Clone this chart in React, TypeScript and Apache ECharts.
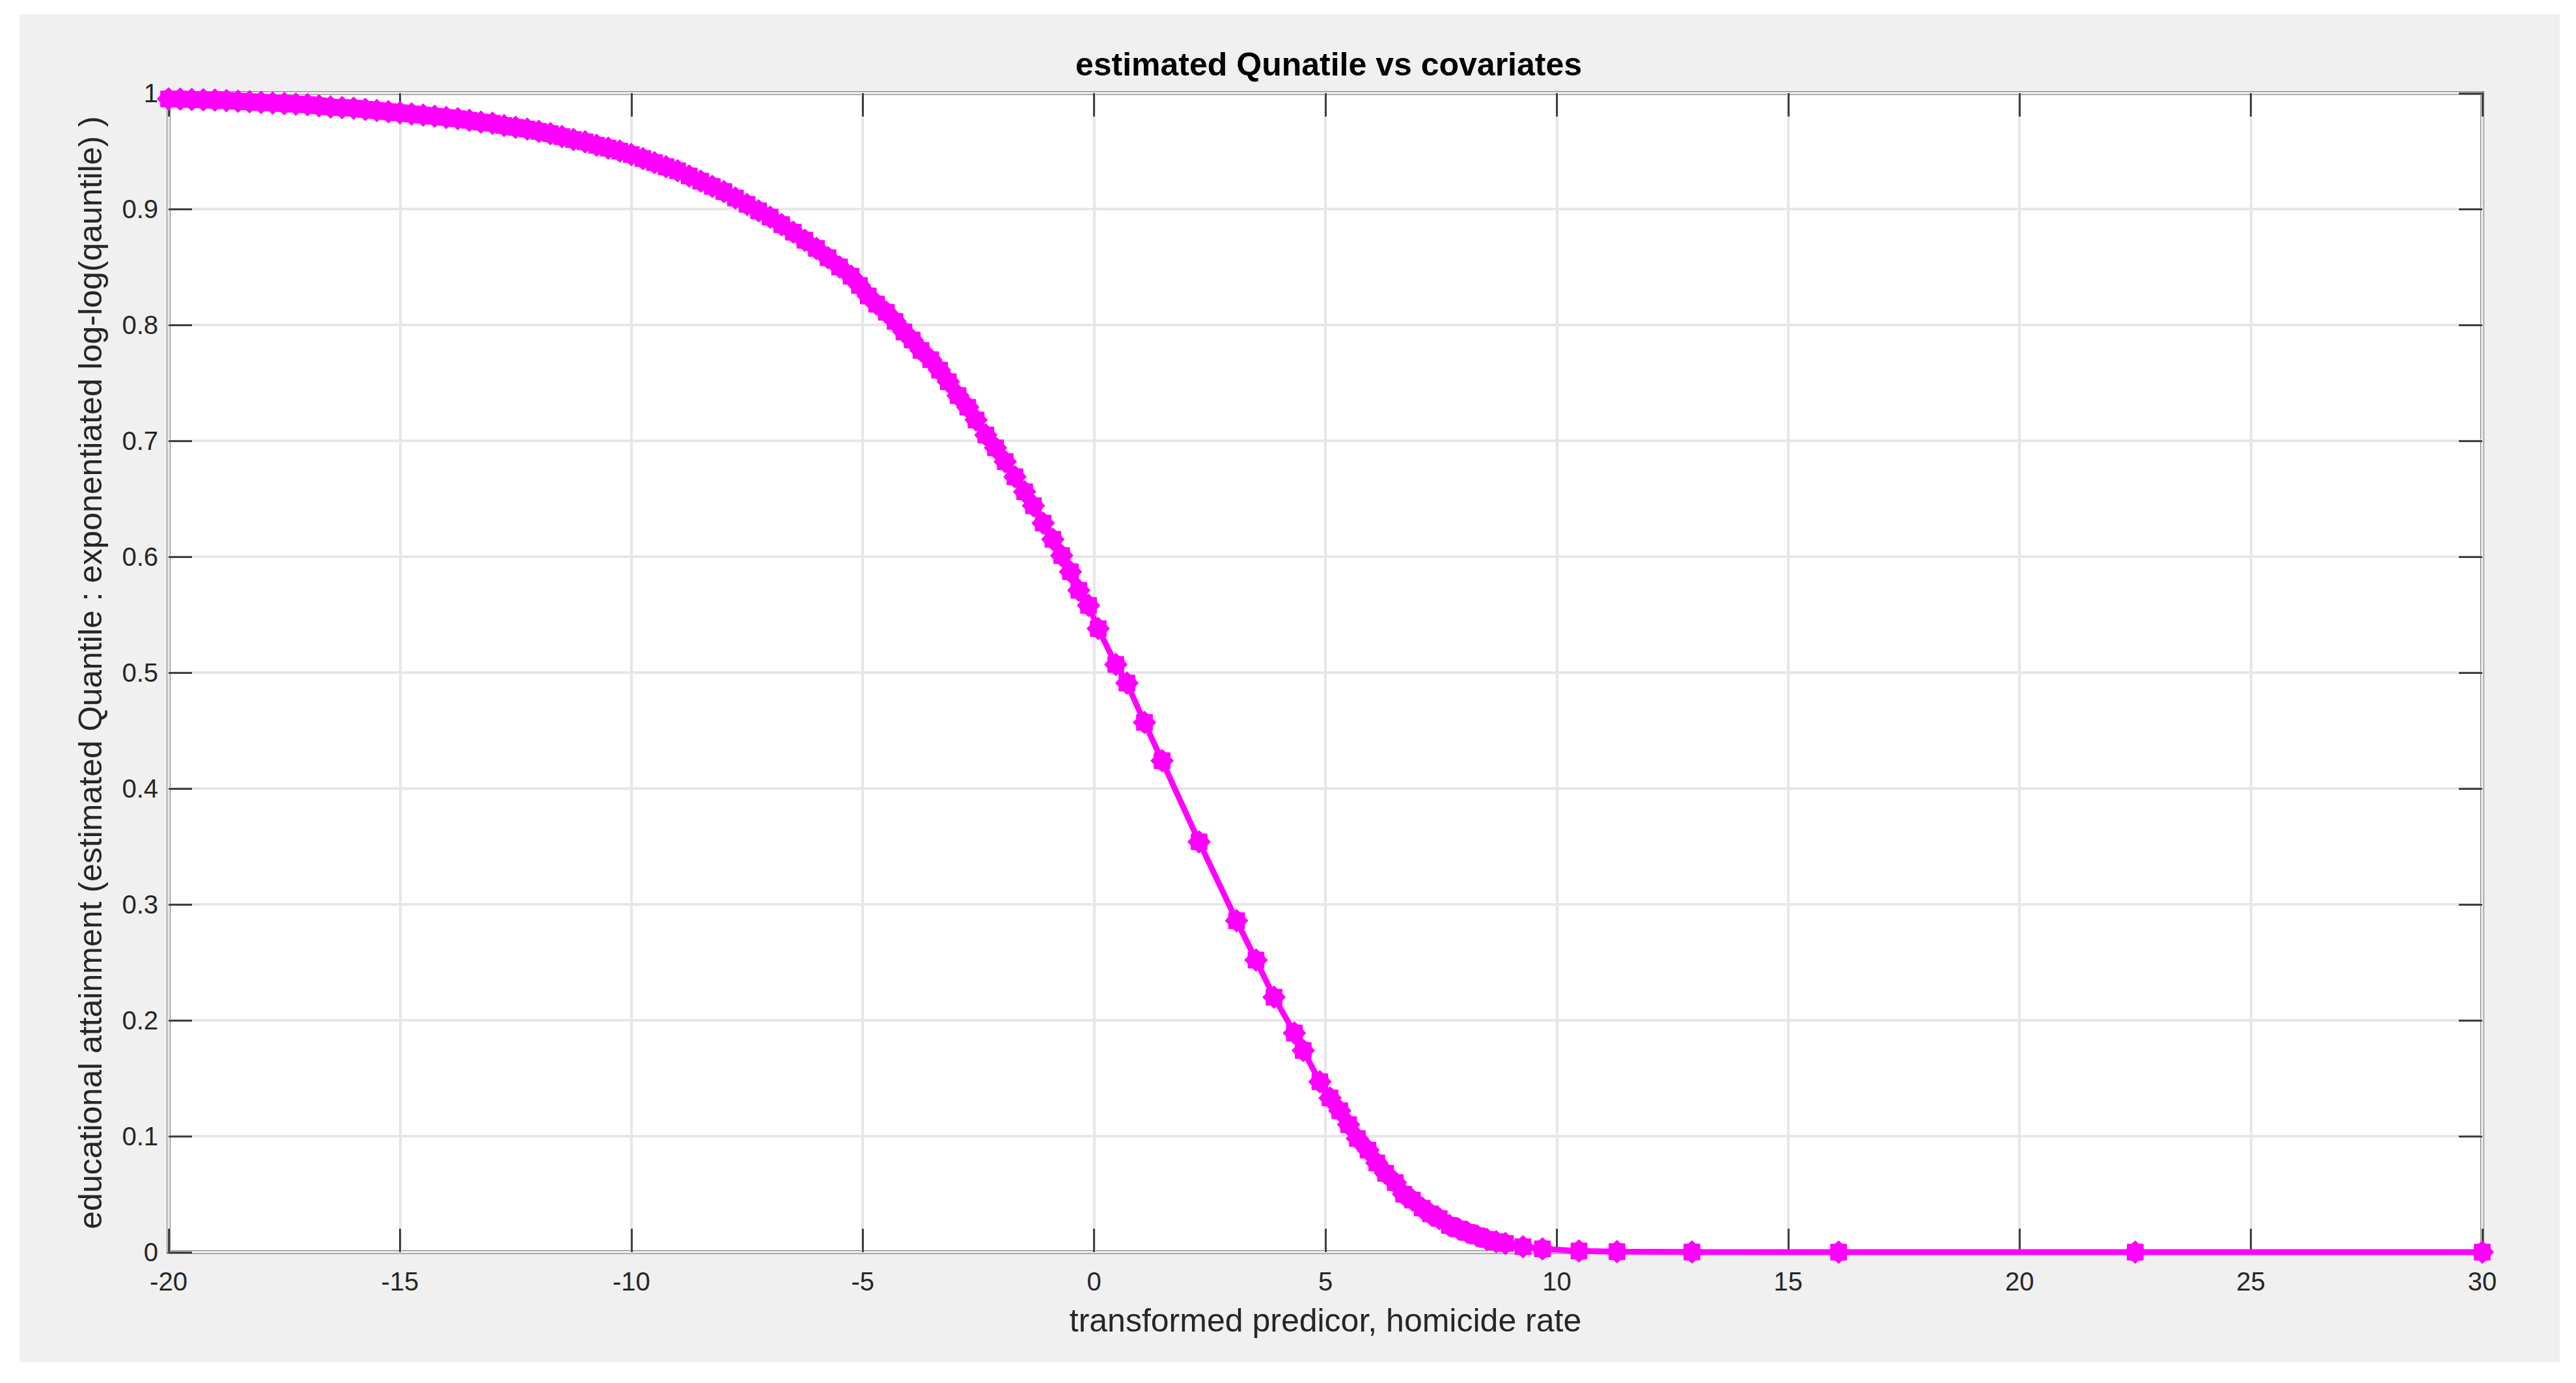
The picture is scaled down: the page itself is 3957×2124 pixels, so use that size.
import React, { useEffect, useRef } from "react";
import * as echarts from "echarts";

const titleText = "estimated Qunatile vs covariates";
const xAxisName = "transformed predicor, homicide rate";
const yAxisName = "educational attainment (estimated Quantile : exponentiated log-log(qauntile) )";

const xTicks = { min: -20, max: 30, interval: 5 };
const yTicks = { min: 0, max: 1, interval: 0.1 };

const xValues = [
  -20, -19.75, -19.5, -19.25, -19, -18.75, -18.5, -18.25, -18, -17.75, -17.5, -17.25,
  -17, -16.75, -16.5, -16.25, -16, -15.75, -15.5, -15.25, -15, -14.75, -14.5, -14.25,
  -14, -13.75, -13.5, -13.25, -13, -12.75, -12.5, -12.25, -12, -11.75, -11.5, -11.25,
  -11, -10.75, -10.5, -10.25, -10, -9.75, -9.5, -9.25, -9, -8.75, -8.5, -8.25,
  -8, -7.75, -7.5, -7.25, -7, -6.75, -6.5, -6.25, -6, -5.75, -5.5, -5.25,
  -5.07, -4.88, -4.7, -4.49, -4.3, -4.11, -3.93, -3.74, -3.53, -3.34, -3.15, -2.94,
  -2.73, -2.55, -2.34, -2.13, -1.92, -1.71, -1.5, -1.31, -1.1, -0.89, -0.7, -0.51,
  -0.33, -0.12, 0.09, 0.47, 0.71, 1.09, 1.47, 2.27, 3.08, 3.5, 3.89, 4.33,
  4.52, 4.88, 5.1, 5.31, 5.5, 5.69, 5.92, 6.11, 6.3, 6.51, 6.69, 6.88,
  7.09, 7.27, 7.46, 7.68, 7.88, 8.07, 8.28, 8.49, 8.69, 8.89, 9.27, 9.69,
  10.48, 11.3, 12.92, 16.09, 22.5, 30,
];

const yValues = [
  0.995, 0.9948, 0.9945, 0.9942, 0.994, 0.9935, 0.993, 0.9925, 0.992, 0.9915, 0.991, 0.9905,
  0.99, 0.989, 0.988, 0.9875, 0.987, 0.986, 0.985, 0.984, 0.983, 0.982, 0.981, 0.98,
  0.979, 0.978, 0.9765, 0.975, 0.974, 0.972, 0.9705, 0.969, 0.967, 0.965, 0.9625, 0.96,
  0.958, 0.955, 0.9525, 0.95, 0.947, 0.9435, 0.94, 0.9365, 0.933, 0.9285, 0.924, 0.9195,
  0.915, 0.9095, 0.904, 0.8985, 0.893, 0.8865, 0.88, 0.873, 0.866, 0.858, 0.85, 0.842,
  0.834, 0.825, 0.818, 0.811, 0.803, 0.794, 0.787, 0.778, 0.77, 0.761, 0.751, 0.739,
  0.729, 0.718, 0.705, 0.694, 0.682, 0.669, 0.656, 0.644, 0.629, 0.615, 0.601, 0.587,
  0.571, 0.558, 0.538, 0.507, 0.491, 0.457, 0.424, 0.354, 0.286, 0.252, 0.22, 0.189,
  0.174, 0.147, 0.133, 0.122, 0.11, 0.098, 0.088, 0.077, 0.068, 0.06, 0.05, 0.045,
  0.038, 0.033, 0.029, 0.023, 0.02, 0.017, 0.014, 0.011, 0.009, 0.0075, 0.0047, 0.0028,
  0.001, 0.0004, 0.0001, 0, 0, 0,
];

const FONT = "'Liberation Sans', Arial, Helvetica, sans-serif";
const MAGENTA = "#ff00ff";
const STAR =
  "path://M1 0 L0.72 0.3 L0.707 0.707 L0.3 0.72 L0 1 L-0.3 0.72 L-0.707 0.707 L-0.72 0.3 L-1 0 L-0.72 -0.3 L-0.707 -0.707 L-0.3 -0.72 L0 -1 L0.3 -0.72 L0.707 -0.707 L0.72 -0.3 Z";

export default function App() {
  const ref = useRef<HTMLDivElement>(null);

  useEffect(() => {
    if (!ref.current) return;
    const chart = echarts.init(ref.current, undefined, { renderer: "svg" });
    const data = xValues.map((x, i) => [x, yValues[i]]);

    const tick = { show: true, inside: true, length: 36, lineStyle: { color: "#404040", width: 3 } };
    const noLine = { show: false, onZero: false };

    chart.setOption({
      animation: false,
      backgroundColor: "#ffffff",
      graphic: [
        {
          type: "rect",
          z: -100,
          silent: true,
          shape: { x: 30, y: 22, width: 3902, height: 2070 },
          style: { fill: "#f0f0f0" },
        },
      ],
      title: {
        text: titleText,
        left: 2036,
        top: 69,
        textAlign: "center",
        textStyle: { fontFamily: FONT, fontSize: 50, fontWeight: "bold", color: "#000000" },
      },
      grid: {
        left: 259,
        right: 144,
        top: 143,
        bottom: 201,
        show: true,
        backgroundColor: "#ffffff",
        borderColor: "#7f7f7f",
        borderWidth: 6,
      },
      xAxis: [
        {
          type: "value",
          ...xTicks,
          position: "bottom",
          name: xAxisName,
          nameLocation: "middle",
          nameGap: 80,
          nameTextStyle: { fontFamily: FONT, fontSize: 50, color: "#262626" },
          axisLine: noLine,
          axisTick: tick,
          axisLabel: { fontFamily: FONT, fontSize: 40, color: "#262626", margin: 25 },
          splitLine: { show: true, lineStyle: { color: "#e6e6e6", width: 4 } },
        },
        {
          type: "value",
          ...xTicks,
          position: "top",
          axisLine: noLine,
          axisTick: tick,
          axisLabel: { show: false },
          splitLine: { show: false },
        },
      ],
      yAxis: [
        {
          type: "value",
          ...yTicks,
          position: "left",
          name: yAxisName,
          nameLocation: "middle",
          nameGap: 95,
          nameTextStyle: { fontFamily: FONT, fontSize: 50, color: "#262626" },
          axisLine: noLine,
          axisTick: tick,
          axisLabel: { fontFamily: FONT, fontSize: 40, color: "#262626", margin: 16 },
          splitLine: { show: true, lineStyle: { color: "#e6e6e6", width: 4 } },
        },
        {
          type: "value",
          ...yTicks,
          position: "right",
          axisLine: noLine,
          axisTick: tick,
          axisLabel: { show: false },
          splitLine: { show: false },
        },
      ],
      series: [
        {
          type: "line",
          data,
          clip: false,
          symbol: STAR,
          symbolSize: 36,
          showAllSymbol: true,
          itemStyle: { color: MAGENTA },
          lineStyle: { color: MAGENTA, width: 9 },
          z: 5,
        },
      ],
    });

    return () => chart.dispose();
  }, []);

  return (
    <div
      ref={ref}
      style={{ position: "fixed", left: 0, top: 0, width: 3957, height: 2124 }}
    />
  );
}
